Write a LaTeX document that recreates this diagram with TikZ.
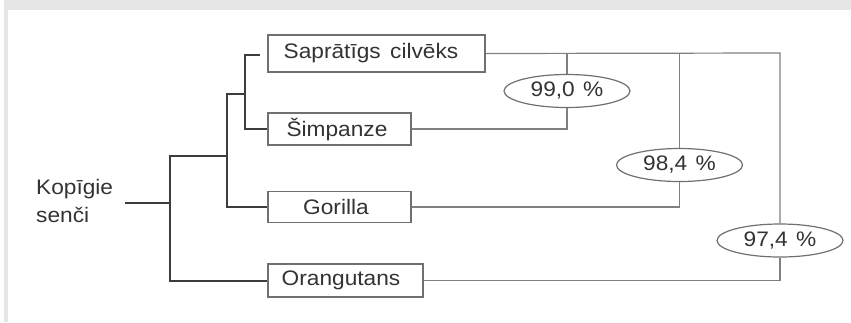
\documentclass[tikz,border=0pt]{standalone}
\usepackage{fontspec}
\setmainfont{Liberation Sans}[FakeStretch=1.08]
\usetikzlibrary{shapes.geometric}
\definecolor{framegray}{HTML}{E6E6E6}
\definecolor{inkgray}{HTML}{333333}
\definecolor{boxgray}{HTML}{707070}
\definecolor{linegray}{HTML}{808080}
\definecolor{treegray}{HTML}{3C3C3C}
\begin{document}
\begin{tikzpicture}[x=1pt, y=-1pt,
  every node/.style={text=inkgray, font=\fontsize{21}{28}\selectfont},
  species/.style={draw=boxgray, line width=1.3pt, fill=white, inner sep=0pt, minimum height=32pt},
  similarity/.style={ellipse, draw=boxgray, line width=1.2pt, fill=white, inner sep=0pt, minimum width=126pt, minimum height=33pt},
  tree/.style={draw=treegray, line width=2pt},
  link/.style={draw=linegray, line width=1.2pt}]
\useasboundingbox (0,0) rectangle (851,322);
% frame strips
\fill[framegray] (4,0) rectangle (851,10);
\fill[framegray] (4,10) rectangle (8,322);

% species boxes
\node[species, minimum width=217pt, minimum height=37pt] (sap) at (376.5,53.5) {Saprātīgs\hspace{0.45em}cilvēks\kern11pt};
\node[species, minimum width=143pt] (sim) at (339.5,129) {Šimpanze\kern5pt};
\node[species, minimum width=143pt, minimum height=31pt] (gor) at (339.5,207) {Gorilla\kern7pt};
\node[species, minimum width=155pt, minimum height=33pt] (ora) at (345.5,280.5) {Orangutans\kern9pt};

% common ancestors
\node[align=left, anchor=west, inner sep=0pt] (kop) at (36,201) {Kopīgie\\senči};

% similarity labels
\node[similarity] (p990) at (567,91) {99,0\hspace{0.4em}\%};
\node[similarity] (p984) at (679.5,165) {98,4\hspace{0.4em}\%};
\node[similarity] (p974) at (780,240.5) {97,4\hspace{0.4em}\%};

% tree coordinates
\coordinate (r0) at (125,203);
\coordinate (r1) at (170,203);
\coordinate (j1) at (170,156);
\coordinate (j2) at (227,156);
\coordinate (j2top) at (227,94);
\coordinate (j3) at (245,94);
\coordinate (j3top) at (245,55);
\coordinate (sapstub) at (260,55);

% ancestral tree
\draw[tree] (r0) -- (r1);
\draw[tree] (j2) -- (j1) |- (ora.west);
\draw[tree] (j3) -- (j2top) |- (gor.west);
\draw[tree] (sapstub) -- (j3top) |- (sim.west);

% similarity brackets
\coordinate (top974) at (780,53);
\draw[link] (sap.east) -- (top974) -- (p974.north);
\draw[link] (p974.south) |- (ora.east);
\draw[link] (p984.north) -- (p984.north |- top974);
\draw[link] (p984.south) |- (gor.east);
\draw[link] (p990.north) -- (p990.north |- top974);
\draw[link] (p990.south) |- (sim.east);
\end{tikzpicture}
\end{document}
